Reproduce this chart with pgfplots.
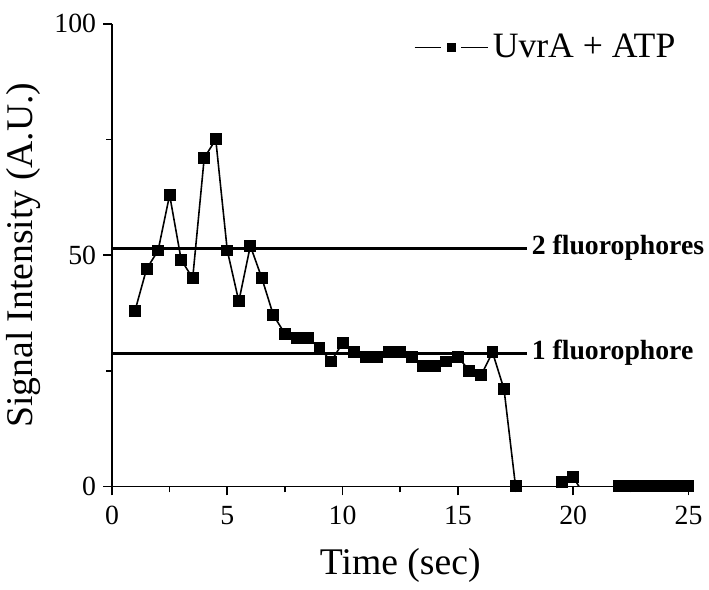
\documentclass[border=0pt]{standalone}
\usepackage{fontspec}
\setmainfont{Liberation Serif}
\usepackage{pgfplots}
\pgfplotsset{compat=1.18}

\begin{document}
\begin{tikzpicture}
\begin{axis}[
    scale only axis,
    width=291pt, height=233.5pt,
    xmin=0, xmax=25, ymin=0, ymax=100,
    axis x line=bottom, axis y line=left,
    axis line style={-, line width=0.9pt},
    xtick={0,5,10,15,20,25}, ytick={0,50,100},
    minor x tick num=1, minor y tick num=1,
    tick align=outside,
    major tick length=4.5pt, minor tick length=3pt,
    every tick/.style={line width=0.8pt, black},
    tick label style={font=\fontsize{14}{16}\selectfont},
    xticklabel style={yshift=-2pt},
    /pgf/number format/assume math mode=true,
    xlabel={Time (sec)}, ylabel={Signal Intensity (A.U.)},
    label style={font=\fontsize{19}{21}\selectfont},
    xlabel style={yshift=-5pt},
    clip mode=individual,
    legend style={at={(0.995,0.995)}, anchor=north east, draw=none, fill=none,
        font=\fontsize{18}{20}\selectfont},
    legend cell align=left,
]
\addplot[black, line width=0.8pt, mark=square*, mark size=2.6pt,
    legend image code/.code={
        \draw[line width=0.8pt] (0pt,0pt) -- (13.5pt,0pt);
        \fill[black] (16.5pt,-2pt) rectangle (20.5pt,2pt);
        \draw[line width=0.8pt] (23.5pt,0pt) -- (37pt,0pt);
    }] coordinates {
(1,38) (1.5,47) (2,51) (2.5,63) (3,49) (3.5,45) (4,71) (4.5,75)
(5,51) (5.5,40) (6,52) (6.5,45) (7,37) (7.5,33) (8,32) (8.5,32)
(9,30) (9.5,27) (10,31) (10.5,29) (11,28) (11.5,28) (12,29) (12.5,29)
(13,28) (13.5,26) (14,26) (14.5,27) (15,28) (15.5,25) (16,24) (16.5,29)
(17,21) (17.5,0) (18,-4) (18.5,-4) (19,-3) (19.5,1) (20,2) (20.5,-2)
(21,-4) (21.5,-3) (22,0) (22.5,0) (23,0) (23.5,0) (24,0) (24.5,0) (25,0)
};
\addlegendentry{UvrA + ATP}
\addplot[black, line width=1.4pt, forget plot] coordinates {(0,51.5) (18,51.5)};
\addplot[black, line width=1.4pt, forget plot] coordinates {(0,28.8) (18,28.8)};
\node[anchor=west, font=\bfseries\fontsize{14}{16}\selectfont, inner sep=1pt]
    at (axis cs:18.1,51.5) {2 fluorophores};
\node[anchor=west, font=\bfseries\fontsize{14}{16}\selectfont, inner sep=1pt]
    at (axis cs:18.1,28.8) {1 fluorophore};
% a little room above the top tick label, as in the original
\path (rel axis cs:0,1) ++(0pt,12pt);
\end{axis}
\end{tikzpicture}
\end{document}
